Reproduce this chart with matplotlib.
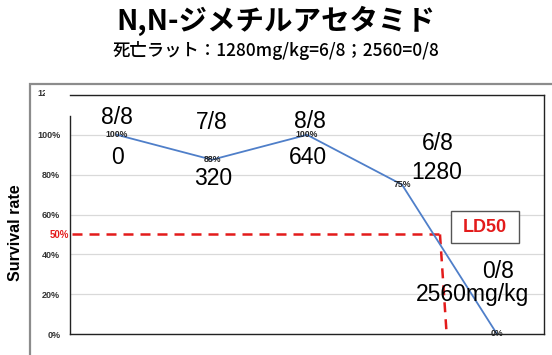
import matplotlib.pyplot as plt
from matplotlib.patches import Rectangle

doses = ['0', '320', '640', '1280', '2560mg/kg']
alive = ['8/8', '7/8', '8/8', '6/8', '0/8']
survival = [1.00, 0.875, 1.00, 0.75, 0.0]
point_labels = ['100%', '88%', '100%', '75%', '0%']
yticks = [0, 0.2, 0.4, 0.6, 0.8, 1.0, 1.2]
ytick_labels = ['0%', '20%', '40%', '60%', '80%', '100%', '']
ld50_top = (3.40, 0.5)
ld50_bottom = (3.47, 0.0)

plt.rcParams['font.family'] = ['Liberation Sans', 'Noto Sans CJK JP', 'DejaVu Sans']

fig = plt.figure(figsize=(5.52, 3.55), dpi=100)
W, H = 552, 355

def fx(px):
    return px / W

def fy(py):
    return 1 - py / H

# outer frame
fig.patches.append(Rectangle((fx(30), fy(360)), fx(530), fy(84) - fy(360), transform=fig.transFigure,
                             fill=False, edgecolor='#8c8c8c', linewidth=1.6))

fig.text(0.5, fy(21), 'N,N-ジメチルアセタミド', ha='center', va='center', fontsize=20.5,
         family=['Noto Sans CJK JP'], weight='bold')
fig.text(0.5, fy(51), '死亡ラット：1280mg/kg=6/8；2560=0/8', ha='center', va='center', fontsize=12.5,
         family=['Noto Sans CJK JP'], weight='medium')

ax = fig.add_axes([fx(70), fy(334), fx(544) - fx(70), fy(95) - fy(334)])
x = list(range(len(doses)))
ax.plot(x, survival, color='#4f7fc9', linewidth=1.3, zorder=3)
ax.set_xlim(-0.495, 4.495)
ax.set_ylim(0, 1.2)
ax.set_yticks(yticks)
ax.set_yticklabels(ytick_labels, fontsize=6.5, fontweight='bold', color='#333333')
ax.set_xticks([])
ax.tick_params(axis='y', length=0, pad=7)
ax.grid(axis='y', color='#d9d9d9', linewidth=0.9)
for side in ['top', 'right', 'bottom', 'left']:
    ax.spines[side].set_color('#222222')
    ax.spines[side].set_linewidth(1.0)
ax.spines['left'].set_bounds(0, 1.095)

# the 120% label is cut off by the frame
clip = Rectangle((fx(30), fy(100)), fx(45) - fx(30), fy(86) - fy(100), transform=fig.transFigure)
top_lbl = fig.text(fx(61), fy(94), '120%', ha='right', va='center', fontsize=6.5,
                   fontweight='bold', color='#333333')
top_lbl.set_clip_on(True)
top_lbl.set_clip_path(clip)

fig.text(fx(16), fy(233), 'Survival rate', rotation=90, ha='center', va='center',
         fontsize=11.5, fontweight='bold')

# fraction / dose annotations (pixel offsets from each point)
alive_off = [(0, 17), (0, 37), (3, 13), (36, 41), (1, 62)]
dose_off = [(0, -23), (1, -19), (1, -23), (35, 12), (-24, 39)]
for i in x:
    ax.annotate(alive[i], (i, survival[i]), xytext=alive_off[i], textcoords='offset pixels',
                ha='center', va='center', fontsize=16.5, annotation_clip=False)
    ax.annotate(doses[i], (i, survival[i]), xytext=dose_off[i], textcoords='offset pixels',
                ha='center', va='center', fontsize=16.5, annotation_clip=False)
    ax.annotate(point_labels[i], (i, survival[i]), xytext=(0, 0), textcoords='offset pixels',
                ha='center', va='center', fontsize=6.3, fontweight='bold', color='#222222',
                zorder=4, annotation_clip=False)

# LD50 guide lines
red = '#e31b1b'
ax.plot([-0.47, ld50_top[0]], [0.5, 0.5], color=red, linestyle=(0, (4, 2.8)), linewidth=1.8,
        zorder=2)
ax.plot([ld50_top[0], ld50_bottom[0]], [ld50_top[1], ld50_bottom[1]], color=red,
        linestyle=(0, (4, 2.8)), linewidth=1.8, clip_on=False, zorder=2)
fig.text(fx(69), fy(235), '50%', ha='right', va='center', fontsize=7, fontweight='bold', color=red)

fig.patches.append(Rectangle((fx(451), fy(243)), fx(68), fy(211) - fy(243), transform=fig.transFigure,
                             facecolor='white', edgecolor='#555555', linewidth=1.0, zorder=5))
fig.text(fx(485), fy(227), 'LD50', ha='center', va='center', fontsize=13, fontweight='bold',
         color=red, zorder=6)

fig.savefig('out.png', dpi=100)
